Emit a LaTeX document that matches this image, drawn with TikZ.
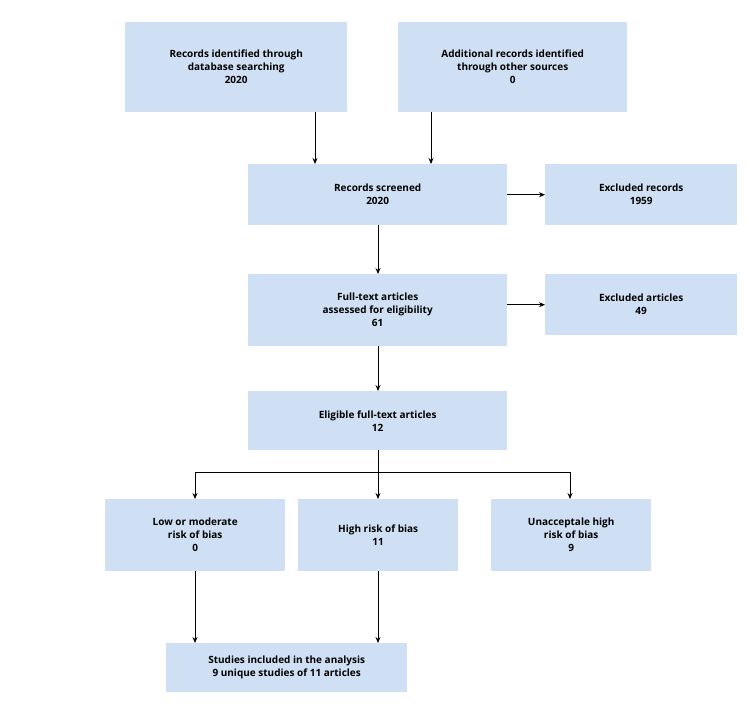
\documentclass[tikz,border=0pt]{standalone}
\usepackage{fontspec}
\setmainfont{Open Sans}
\usetikzlibrary{arrows.meta}
\definecolor{boxc}{HTML}{CFE0F4}
\begin{document}
\begin{tikzpicture}[x=1pt,y=-1pt,
  box/.style={fill=boxc,draw=none,align=center,font=\bfseries\fontsize{10}{13}\selectfont,anchor=north west,inner sep=0pt},
  arr/.style={-{Stealth[length=6pt,width=5pt]},line width=0.7pt}]
\useasboundingbox (0,0) rectangle (750,718);
\newcommand{\bx}[6]{\node[box,minimum width=#4-#2,minimum height=#5-#3] (#1) at (#2,#3) {#6};}
\bx{a}{125}{22}{347}{112}{Records identified through\\database searching\\2020}
\bx{b}{398}{22}{627}{112}{Additional records identified\\through other sources\\0}
\bx{c}{248}{164}{507}{225}{Records screened\\2020}
\bx{d}{545}{164}{737}{225}{Excluded records\\1959}
\bx{e}{248}{274}{507}{346}{Full-text articles\\assessed for eligibility\\61}
\bx{f}{545}{274}{737}{335}{Excluded articles\\49}
\bx{g}{248}{391}{507}{450}{Eligible full-text articles\\12}
\bx{h}{105}{499}{285}{571}{Low or moderate\\risk of bias\\0}
\bx{i}{298}{499}{458}{571}{High risk of bias\\11}
\bx{j}{491}{499}{651}{571}{Unacceptale high\\risk of bias\\9}
\bx{k}{166}{643}{407}{692}{Studies included in the analysis\\9 unique studies of 11 articles}
\draw[arr] (315,112) -- (315,164);
\draw[arr] (431,112) -- (431,164);
\draw[arr] (c.east) -- (c.east -| d.west);
\draw[arr] (e.east |- f.west) -- (f.west);
\draw[arr] (378,225) -- (378,274);
\draw[arr] (378,346) -- (378,391);
\coordinate (m) at (378,472);
\draw[line width=0.7pt] (378,450) -- (m);
\draw[arr] (m) -| (195,499);
\draw[arr] (m) -| (570,499);
\draw[arr] (m) -- (378,499);
\draw[arr] (195,571) -- (195,643);
\draw[arr] (378,571) -- (378,643);
\end{tikzpicture}
\end{document}
